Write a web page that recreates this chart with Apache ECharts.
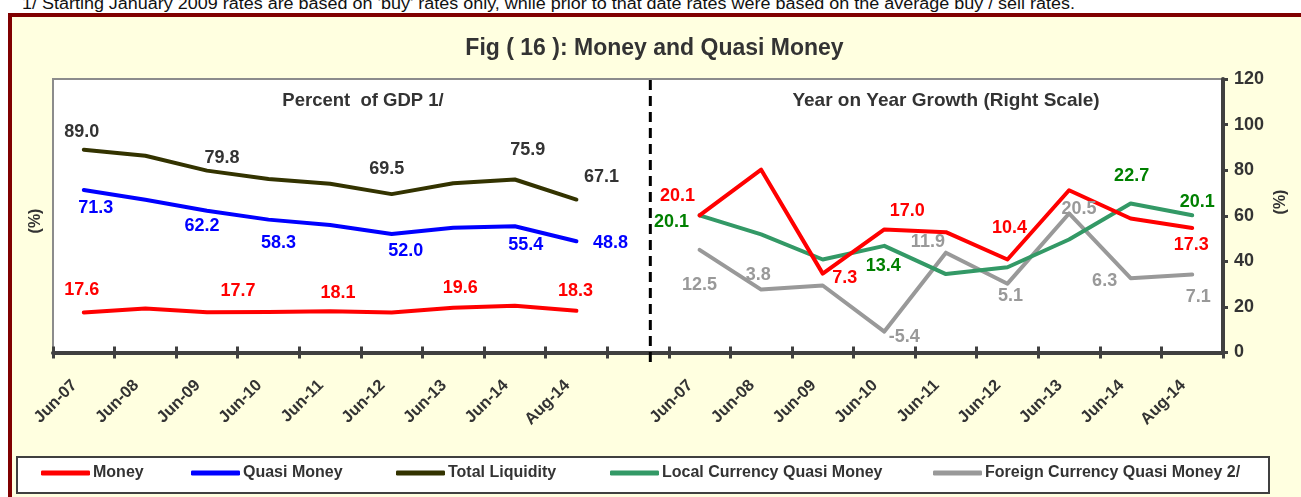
<!DOCTYPE html>
<html>
<head>
<meta charset="utf-8">
<script src="https://cdn.jsdelivr.net/npm/echarts@6/dist/echarts.min.js"></script>
<style>
  html, body { margin: 0; padding: 0; background: #ffffff; }
  #wrap { position: relative; width: 1301px; height: 497px; overflow: hidden; background: #ffffff; }
  #frame { position: absolute; left: 8px; top: 13px; width: 1320px; height: 520px; box-sizing: border-box;
           border: 4px solid #800000; background: #FFFFE0; }
  #note { position: absolute; left: 0; top: 0; }
  #chart { position: absolute; left: 0; top: 0; width: 1301px; height: 497px; }
</style>
</head>
<body>
<div id="wrap">
  <svg id="note" width="1301" height="13">
    <text x="22" y="9" font-family="Liberation Sans, Arial, sans-serif" font-size="16" fill="#111"
          textLength="1053" lengthAdjust="spacingAndGlyphs">1/ Starting January 2009 rates are based on 'buy' rates only, while prior to that date rates were based on the average buy / sell rates.</text>
  </svg>
  <div id="frame"></div>
  <div id="chart"></div>
</div>
<script>
// ---------------- data ----------------
const categories = ['Jun-07','Jun-08','Jun-09','Jun-10','Jun-11','Jun-12','Jun-13','Jun-14','Aug-14'];

// Percent of GDP (left panel, visible 0-120 scale)
const pctMoney = [17.6, 19.3, 17.7, 17.8, 18.1, 17.5, 19.6, 20.5, 18.3];
const pctQuasi = [71.3, 67.0, 62.2, 58.3, 55.9, 52.0, 54.7, 55.4, 48.8];
const pctTotal = [89.0, 86.3, 79.8, 76.1, 74.0, 69.5, 74.3, 75.9, 67.1];

// Year on year growth (right panel, hidden -10..50 scale)
const yoyMoney   = [20.1, 30.1, 7.3, 17.0, 16.4, 10.4, 25.6, 19.4, 17.3];
const yoyLocal   = [20.1, 15.9, 10.4, 13.4, 7.2, 8.7, 14.8, 22.7, 20.1];
const yoyForeign = [12.5, 3.8, 4.7, -5.4, 11.9, 5.1, 20.5, 6.3, 7.1];

const leftTitle = 'Percent  of GDP 1/';
const rightTitle = 'Year on Year Growth (Right Scale)';
const chartTitle = 'Fig ( 16 ): Money and Quasi Money';
const legendNames = ['Money', 'Quasi Money', 'Total Liquidity', 'Local Currency Quasi Money', 'Foreign Currency Quasi Money 2/'];

// ---------------- label placement (styling only) ----------------
const offTotal   = {0:[-2,-18], 2:[15,-13], 5:[-5,-25], 7:[13,-29], 8:[25,-23]};
const offQuasi   = {0:[12,18], 2:[-5,15], 3:[10,23], 5:[14,17], 7:[11,19], 8:[34,2]};
const offMoney   = {0:[-2,-22], 2:[31,-21], 4:[8,-18], 6:[7,-20], 8:[-1,-20]};
const offMoneyG  = {0:[-22,-19], 2:[22,4], 3:[23,-18], 5:[2,-31], 8:[-1,17]};
const offLocalG  = {0:[-28,7], 3:[-1,20], 7:[1,-27], 8:[5,-13]};
const offForeignG= {0:[0,35], 1:[-3,-15], 3:[20,5], 4:[-18,-11], 5:[3,12], 6:[10,-4], 7:[-26,3], 8:[6,22]};

const FONT = 'Liberation Sans, Arial, sans-serif';
const axisCats = categories.concat(['']).concat(categories);

function build(values, offs, right) {
  const pad = new Array(categories.length + 1).fill('-');
  const items = values.map((v, i) => offs[i]
      ? { value: v, label: { show: true, offset: offs[i] } }
      : v);
  return right ? pad.concat(items) : items.concat(pad);
}

function line(name, values, offs, right, color, labelColor) {
  return {
    name: name, type: 'line',
    xAxisIndex: 0, yAxisIndex: right ? 1 : 0,
    data: build(values, offs, right),
    symbol: 'circle', symbolSize: 0.01, showSymbol: true,
    lineStyle: { width: 4, color: color, join: 'round', cap: 'round' },
    itemStyle: { color: color },
    label: { show: false, position: 'inside', color: labelColor, fontSize: 18,
             fontWeight: 'bold', fontFamily: FONT,
             formatter: p => Number(p.value).toFixed(1) },
    emphasis: { disabled: true },
    z: 3
  };
}

const legendLeft = [41, 191, 396, 610, 933];

const chart = echarts.init(document.getElementById('chart'), null, { renderer: 'canvas' });

const option = {
  animation: false,
  backgroundColor: 'transparent',
  grid: { left: 53, top: 79, width: 1170, height: 273.5, show: true,
          backgroundColor: '#ffffff', borderColor: '#8c8c8c', borderWidth: 2 },
  legend: legendNames.map((n, i) => ({
    data: [n], left: legendLeft[i], top: 465, padding: 0,
    icon: 'roundRect', itemWidth: 49, itemHeight: 5, itemGap: 0,
    selectedMode: false,
    textStyle: { fontSize: 16, fontWeight: 'bold', color: '#333333', fontFamily: FONT, padding: [0,0,0,-2] }
  })),
  xAxis: [
    { type: 'category', data: axisCats, position: 'bottom', boundaryGap: true,
      axisLine: { show: true, onZero: false, lineStyle: { color: '#404040', width: 4 } },
      axisTick: { show: true, interval: 0, length: 6, lineStyle: { color: '#404040', width: 3 } },
      axisLabel: { interval: 0, rotate: 45, margin: 21, fontSize: 16.5, fontWeight: 'bold',
                   color: '#333333', fontFamily: FONT, padding: [0, 13, 0, 0] },
      splitLine: { show: false } },
    { type: 'category', data: axisCats, position: 'bottom', boundaryGap: true,
      axisLine: { show: false, onZero: false },
      axisTick: { show: true, inside: true, interval: 0, length: 6, lineStyle: { color: '#404040', width: 3 } },
      axisLabel: { show: false }, splitLine: { show: false } }
  ],
  yAxis: [
    { type: 'value', position: 'right', min: 0, max: 120, interval: 20,
      axisLine: { show: true, onZero: false, lineStyle: { color: '#404040', width: 4 } },
      axisTick: { show: true, length: 5, lineStyle: { color: '#404040', width: 3 } },
      axisLabel: { margin: 11, fontSize: 18, fontWeight: 'bold', color: '#333333', fontFamily: FONT },
      splitLine: { show: false } },
    { type: 'value', min: -10, max: 50, interval: 10, show: false,
      axisLine: { show: false, onZero: false }, axisTick: { show: false },
      axisLabel: { show: false }, splitLine: { show: false } }
  ],
  series: [
    line('Total Liquidity', pctTotal, offTotal, false, '#333300', '#333333'),
    line('Quasi Money', pctQuasi, offQuasi, false, '#0000FF', '#0000FF'),
    line('Money', pctMoney, offMoney, false, '#FF0000', '#FF0000'),
    line('Foreign Currency Quasi Money 2/', yoyForeign, offForeignG, true, '#999999', '#999999'),
    line('Local Currency Quasi Money', yoyLocal, offLocalG, true, '#339966', '#008000'),
    line('Money', yoyMoney, offMoneyG, true, '#FF0000', '#FF0000')
  ]
};
chart.setOption(option);

// decorations positioned from the axes
const n = categories.length;
const c9 = chart.convertToPixel({ xAxisIndex: 0 }, n);
const c10 = chart.convertToPixel({ xAxisIndex: 0 }, n + 1);
const sepX = c9 + 0.2 * (c10 - c9);
chart.setOption({
  graphic: [
    { type: 'rect', z: 0, shape: { x: 17, y: 457, width: 1252, height: 36 },
      style: { fill: '#ffffff', stroke: '#404040', lineWidth: 2 } },
    { type: 'text', z: 10, x: 654.5, y: 49,
      style: { text: chartTitle, font: 'bold 23px ' + FONT, fill: '#333333', align: 'center', verticalAlign: 'middle' } },
    { type: 'text', z: 10, x: 363, y: 101,
      style: { text: leftTitle, font: 'bold 18.5px ' + FONT, fill: '#333333', align: 'center', verticalAlign: 'middle' } },
    { type: 'text', z: 10, x: 946, y: 101,
      style: { text: rightTitle, font: 'bold 19px ' + FONT, fill: '#333333', align: 'center', verticalAlign: 'middle' } },
    { type: 'text', z: 10, x: 36, y: 221, rotation: Math.PI / 2,
      style: { text: '(%)', font: 'bold 16px ' + FONT, fill: '#333333', align: 'center', verticalAlign: 'middle' } },
    { type: 'text', z: 10, x: 1281, y: 202, rotation: Math.PI / 2,
      style: { text: '(%)', font: 'bold 16px ' + FONT, fill: '#333333', align: 'center', verticalAlign: 'middle' } },
    { type: 'line', z: 10, shape: { x1: sepX, y1: 80, x2: sepX, y2: 362 },
      style: { stroke: '#000000', lineWidth: 3, lineDash: [10, 6] } }
  ]
});
</script>
</body>
</html>
